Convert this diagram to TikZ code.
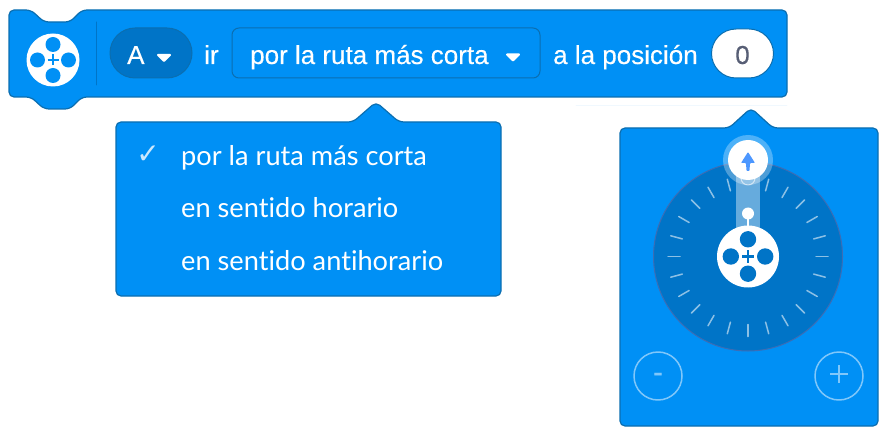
\documentclass[tikz,border=0pt]{standalone}
\usepackage{fontspec}
\setmainfont{Liberation Sans}
\newfontfamily\blockfont[FakeBold=0.35]{Liberation Sans}
\newfontfamily\menufont[Ligatures=NoCommon]{Lato}
\newfontfamily\symbfont{DejaVu Sans}
\usetikzlibrary{calc}

\definecolor{blockblue}{HTML}{0090F5}
\definecolor{darkblue}{HTML}{0074C7}
\definecolor{edgeblue}{HTML}{0B6EB0}
\definecolor{dialedge}{HTML}{3C6DB5}
\definecolor{arrowblue}{HTML}{4C97FF}
\definecolor{numgrey}{HTML}{575E75}

\tikzset{
  blocktext/.style={text=white, font=\blockfont\fontsize{26}{26}\selectfont, anchor=base west, inner sep=0pt},
  menutext/.style={text=white, font=\menufont\fontsize{27.2}{27.2}\selectfont, anchor=base west, inner sep=0pt},
  panelbox/.style={fill=blockblue, draw=edgeblue, line width=1.2pt, line join=round},
  caret/.style={fill=white, draw=white, line width=2pt, line join=round},
  tick/.style={draw=white, draw opacity=0.55, line width=1.5pt},
  roundbutton/.style={draw=white, draw opacity=0.5, line width=1.5pt},
}

\begin{document}
\begin{tikzpicture}[x=1pt, y=-1pt, line cap=round, line join=round]
  \useasboundingbox (0,0) rectangle (888,438);

  % ===== Parameters =====
  \def\hubR{31}    % radius of the wheel in the dial
  \def\dialR{94.5} % radius of the dial

  % ===== Block =====
  \draw[panelbox, rounded corners=5pt]
    (9,10) -- (31,10) -- (44,22) -- (70,22) -- (82,10) -- (787,10) -- (787,97)
    -- (82,97) -- (70,109) -- (44,109) -- (31,97) -- (9,97) -- cycle;

  % Wheel icon
  \coordinate (blockhub) at (53,60);
  \fill[white] (blockhub) circle (26.5);
  \foreach \a in {0,90,180,270}
    \fill[blockblue] ($(blockhub)+(\a:15.5)$) circle (7.5);
  \draw[blockblue, line width=1.7pt, line cap=butt]
    (47.5,60) -- (58.5,60) (53,54.5) -- (53,65.5);
  \draw[darkblue, line width=1pt] (96,22) -- (96,85);

  % Motor pill
  \draw[fill=darkblue, draw=edgeblue, line width=1pt]
    (135,28) -- (167,28) arc (-90:90:25) -- (135,78) arc (90:270:25) -- cycle;
  \node[blocktext] (motorlabel) at (127,64) {A};
  \draw[caret] (158,55) -- (170,55) -- (164,61) -- cycle;
  \node[blocktext] (golabel) at (204,64) {ir};

  % Route dropdown
  \draw[fill=blockblue, draw=edgeblue, line width=1pt, rounded corners=7pt]
    (232,28) rectangle (540,78);
  \node[blocktext] (routelabel) at (250,64) {por la ruta más corta};
  \draw[caret] (507,54.5) -- (519,54.5) -- (513,60.5) -- cycle;
  \node[blocktext] (poslabel) at (553,64) {a la posición};

  % Value field
  \draw[fill=white, draw=edgeblue, line width=1pt]
    (736,29) -- (749,29) arc (-90:90:24.5) -- (736,78) arc (90:270:24.5) -- cycle;
  \node[blocktext, text=numgrey, anchor=base] (poszero) at (742.5,64) {0};

  % ===== Route menu =====
  \draw[panelbox, rounded corners=5pt]
    (116,122) -- (353,122) -- (376,102) -- (399,122) -- (501,122) -- (501,296)
    -- (116,296) -- cycle;
  \node[text=white, text opacity=0.8, font=\symbfont\fontsize{28}{28}\selectfont, inner sep=0pt]
    (menucheck) at (148,155) {✓};
  \node[menutext] (menushort) at (181,166) {por la ruta más corta};
  \node[menutext] (menucw) at (181,218) {en sentido horario};
  \node[menutext] (menuccw) at (181,270) {en sentido antihorario};

  % ===== Position panel =====
  \draw[draw=blockblue!6, line width=0.8pt] (576,105) -- (787,105);
  \draw[panelbox, rounded corners=5pt]
    (620,128) -- (729,128) -- (751,108) -- (773,128) -- (878,128) -- (878,426)
    -- (620,426) -- cycle;

  % Dial
  \coordinate (dial) at (748,256.5);
  \draw[fill=darkblue, draw=dialedge, line width=1pt] (dial) circle (\dialR);
  \foreach \a in {15,30,...,345}
    \draw[tick] ($(dial)+(\a-90:68)$) -- ($(dial)+(\a-90:80)$);

  % Needle
  \fill[white, opacity=0.4] (736,160) rectangle (760,256);
  \draw[white, opacity=0.6, line width=1pt] (748,178) circle (7);
  \draw[white, line width=1.2pt] (748,214) -- (748,232);
  \fill[white] (748,213.5) circle (6);

  % Wheel in the dial
  \fill[white] (dial) circle (\hubR);
  \foreach \a in {0,90,180,270}
    \fill[darkblue] ($(dial)+(\a:17.2)$) circle (8.2);
  \draw[darkblue, line width=2pt, line cap=butt]
    (742,256.5) -- (754,256.5) (748,250.5) -- (748,262.5);

  % Handle
  \fill[white, opacity=0.3] (748,160) circle (25);
  \fill[white] (748,160) circle (20);
  \fill[arrowblue, rounded corners=0.8pt]
    (748,152) -- (755,163) -- (750,163) -- (749.5,171) -- (746.5,171) -- (746,163) -- (741,163) -- cycle;

  % ===== Buttons =====
  \draw[roundbutton] (658,376) circle (24);
  \draw[roundbutton] (839,376) circle (24);
  \node[text=white, text opacity=0.5, font=\blockfont\fontsize{30}{30}\selectfont, anchor=base, inner sep=0pt]
    (minuslabel) at (658,382) {-};
  \draw[white, draw opacity=0.5, line width=2.5pt, line cap=butt]
    (830,374) -- (848,374) (839,365) -- (839,383);

\end{tikzpicture}
\end{document}
